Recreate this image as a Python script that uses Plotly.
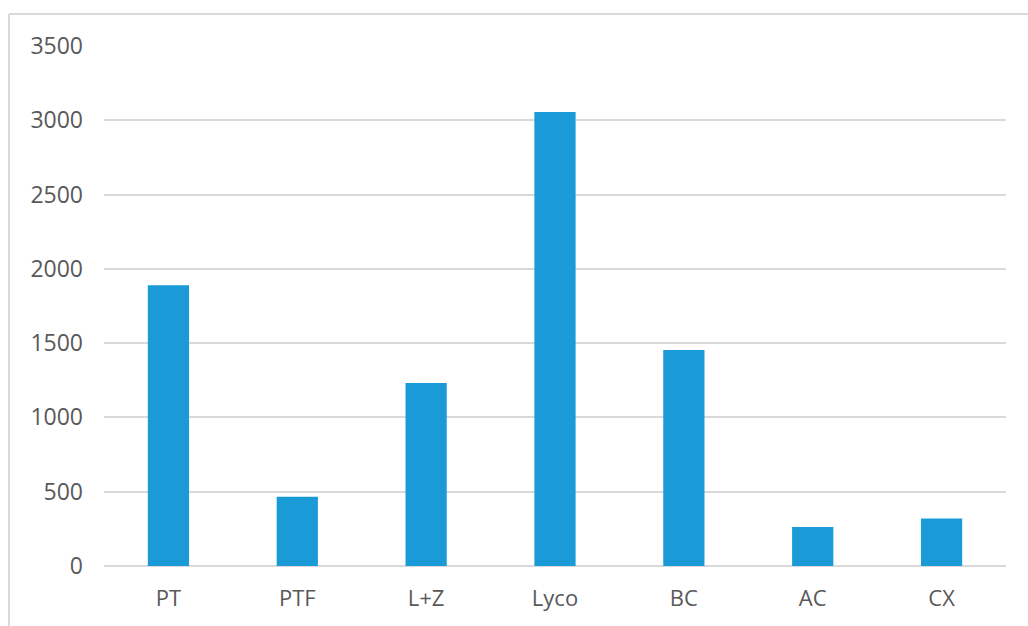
import plotly.graph_objects as go

categories = ["PT", "PTF", "L+Z", "Lyco", "BC", "AC", "CX"]
values = [1890, 466, 1232, 3055, 1454, 263, 320]
y_ticks = [0, 500, 1000, 1500, 2000, 2500, 3000, 3500]

W, H = 1028, 626
L, R, T, B = 104, 22, 46, 60
pw, ph = W - L - R, H - T - B

def px_x(x):
    return (x - L) / pw

def px_y(y):
    return (H - B - y) / ph

fig = go.Figure(go.Bar(
    x=categories, y=values,
    marker=dict(color="#1a9bd7", line=dict(width=0)),
    width=0.32,
))

fig.update_layout(
    width=W, height=H,
    margin=dict(l=L, r=R, t=T, b=B),
    plot_bgcolor="white", paper_bgcolor="white",
    showlegend=False,
    font=dict(family="Open Sans", size=22, color="#595959"),
    xaxis=dict(showgrid=False, showline=False, zeroline=False,
               ticks="", ticklabelstandoff=17,
               tickfont=dict(size=22, color="#595959")),
    yaxis=dict(range=[0, 3500], tickvals=y_ticks, showgrid=True,
               gridcolor="#d9d9d9", gridwidth=2, zeroline=True,
               zerolinecolor="#d9d9d9", zerolinewidth=2, showline=False,
               ticks="", ticklabelstandoff=20,
               tickfont=dict(size=23, color="#595959")),
    shapes=[
        dict(type="line", xref="paper", yref="paper",
             x0=px_x(9), y0=px_y(14), x1=px_x(1040), y1=px_y(14),
             line=dict(color="#d9d9d9", width=2)),
        dict(type="line", xref="paper", yref="paper",
             x0=px_x(9), y0=px_y(14), x1=px_x(9), y1=px_y(640),
             line=dict(color="#d9d9d9", width=2)),
    ],
)

fig.write_html("out.html")
